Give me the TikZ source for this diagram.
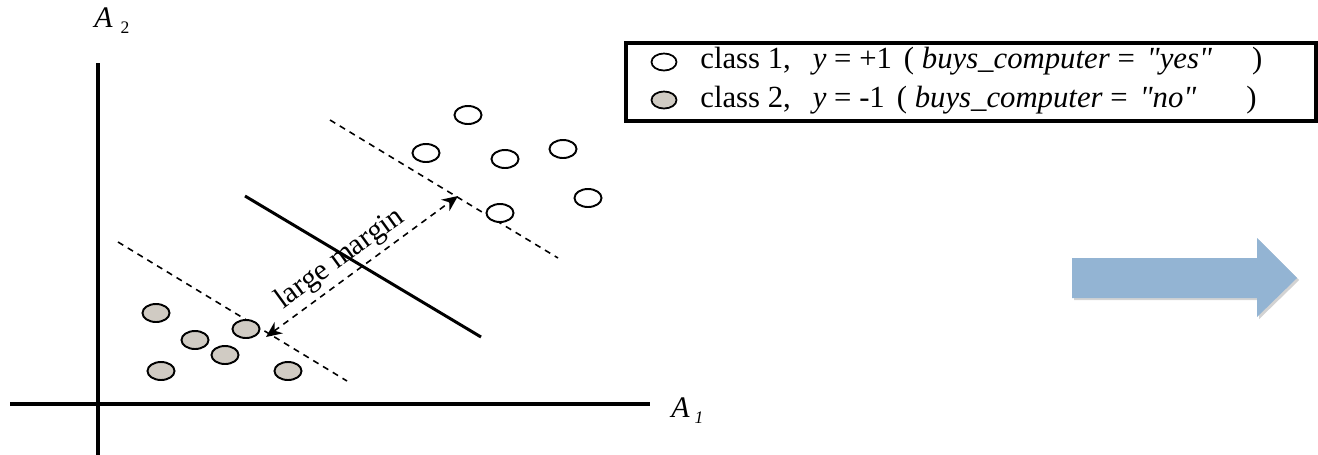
\documentclass[tikz,border=0pt]{standalone}
\usepackage{fontspec}
\setmainfont{Liberation Serif}[Ligatures=TeXOff]
\usetikzlibrary{arrows.meta,shadows,shapes.geometric}
\definecolor{ptgray}{HTML}{D0CBC3}
\definecolor{bigblue}{HTML}{93B4D3}
\newlength{\pxu}\setlength{\pxu}{0.02cm}
\tikzset{
  axis/.style={line width=2pt},
  posp/.style={draw=black,line width=1.1pt,fill=white,ellipse,minimum width=27\pxu,minimum height=18\pxu,inner sep=0pt},
  negp/.style={posp,fill=ptgray},
  lpos/.style={posp,minimum width=25\pxu,minimum height=17\pxu,line width=1pt},
  lneg/.style={lpos,fill=ptgray},
  marg/.style={line width=0.9pt,dash pattern=on 3.5pt off 3pt},
  lbl/.style={font=\fontsize{17.5}{19}\selectfont,inner sep=0pt,anchor=base west},
  axl/.style={inner sep=0pt,anchor=base west},
}
\begin{document}
\begin{tikzpicture}[x=0.02cm,y=-0.02cm]
\useasboundingbox (0,0) rectangle (1318,454);
% axes
\coordinate (yb) at (98,460); \coordinate (yt) at (98,63);
\coordinate (xl) at (10,404); \coordinate (xr) at (650,404);
\draw[axis] (yb) -- (yt);
\draw[axis] (xl) -- (xr);
\node[axl] (a2) at (94,27) {\fontsize{17}{18}\selectfont\textit{A}\hspace{8\pxu}\raisebox{-6\pxu}{\fontsize{10}{11}\selectfont 2}};
\node[axl] (a1) at (671,417) {\fontsize{17}{18}\selectfont\textit{A}\hspace{5\pxu}\raisebox{-6\pxu}{\fontsize{10}{11}\selectfont\textit{1}}};
% margins
\coordinate (u1) at (330,120); \coordinate (u2) at (558,258);
\coordinate (l1) at (118,242); \coordinate (l2) at (347,381);
\coordinate (s1) at (245,196); \coordinate (s2) at (481,337);
\draw[marg] (u1) -- (u2);
\draw[marg] (l1) -- (l2);
\draw[line width=1.7pt] (s1) -- (s2);
% arrow
\coordinate (ma) at (266,337); \coordinate (mb) at (458,196);
\draw[marg,{Stealth[length=9pt,width=8pt]}-{Stealth[length=9pt,width=8pt]}] (ma) -- (mb);
\node[rotate=36,font=\fontsize{17}{18}\selectfont,inner sep=0pt] (lm) at (340,259) {large margin};
% class 1
\node[posp] (p1) at (468,115) {};
\node[posp] (p2) at (426,153) {};
\node[posp] (p3) at (505,159) {};
\node[posp] (p4) at (563,149) {};
\node[posp] (p5) at (588,198) {};
\node[posp] (p6) at (500,213) {};
% class 2
\node[negp] (n1) at (156,313) {};
\node[negp] (n2) at (195,340) {};
\node[negp] (n3) at (246,329) {};
\node[negp] (n4) at (225,355) {};
\node[negp] (n5) at (161,371) {};
\node[negp] (n6) at (288,371) {};
% legend
\draw[line width=2pt] (626,43) rectangle (1316,121);
\node[lpos] (lp) at (664,62) {};
\node[lneg] (ln) at (664,100) {};
\node[lbl] (t1) at (700,68) {class 1,\hspace{22\pxu}\textit{y} = +1\hspace{12\pxu}( \textit{buys\_computer} =\hspace{12\pxu}\textit{"yes"}\hspace{40\pxu})};
\node[lbl] (t2) at (700,107) {class 2,\hspace{22\pxu}\textit{y} = -1\hspace{12\pxu}( \textit{buys\_computer} =\hspace{12\pxu}\textit{"no"}\hspace{50\pxu})};
% big arrow
\fill[bigblue,drop shadow={opacity=0.35,shadow xshift=1.2pt,shadow yshift=-1.2pt}]
  (1072,258) -- (1257,258) -- (1257,238) -- (1297,278) -- (1257,317) -- (1257,298) -- (1072,298) -- cycle;
\end{tikzpicture}
\end{document}
